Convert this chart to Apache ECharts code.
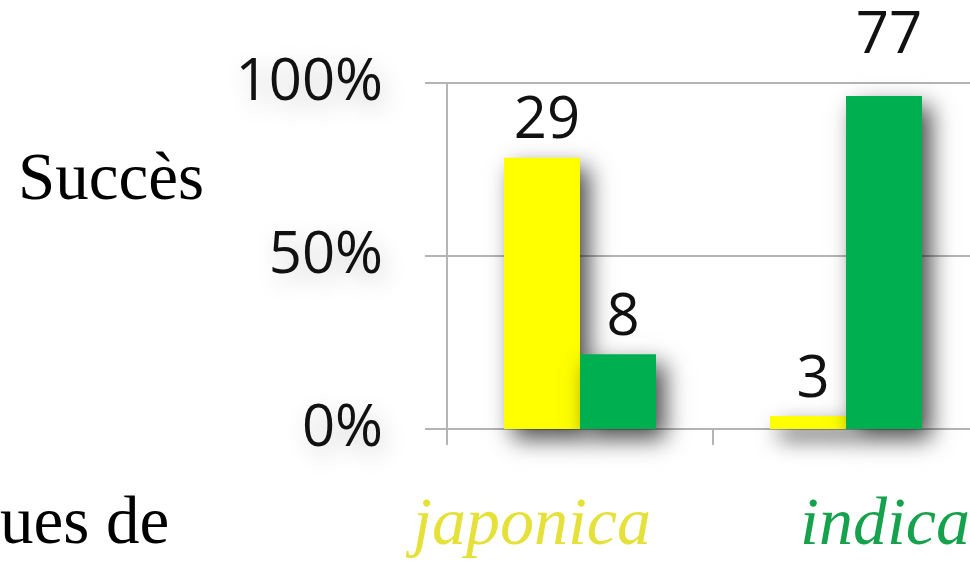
<!DOCTYPE html>
<html>
<head>
<meta charset="utf-8">
<script src="https://cdn.jsdelivr.net/npm/echarts@6/dist/echarts.min.js"></script>
<style>html,body{margin:0;padding:0;background:#fff;overflow:hidden;}#c{width:1000px;height:565px;}</style>
</head>
<body>
<div id="c"></div>
<script>
const categories = ['japonica', 'indica'];
const yellowCounts = [29, 3];
const greenCounts = [8, 77];
const yTicks = [0, 0.5, 1];
const sideTexts = ['Succès', 'ues de'];

const totals = categories.map((c, i) => yellowCounts[i] + greenCounts[i]);
const yellowShare = yellowCounts.map((v, i) => v / totals[i]);
const greenShare = greenCounts.map((v, i) => v / totals[i]);

const chart = echarts.init(document.getElementById('c'));
const labelFont = '"Open Sans", "Noto Sans", sans-serif';
const barShadow = {shadowColor: 'rgba(0,0,0,0.7)', shadowBlur: 22, shadowOffsetX: 9, shadowOffsetY: 10};
const textShadow = {textShadowColor: 'rgba(0,0,0,0.22)', textShadowBlur: 24, textShadowOffsetX: 4, textShadowOffsetY: 8};

function makeLabel(counts) {
  return {
    show: true, position: 'top', distance: 7, offset: [5, 0],
    fontFamily: labelFont, fontSize: 58, color: '#111',
    formatter: p => String(counts[p.dataIndex])
  };
}

chart.setOption({
  animation: false,
  backgroundColor: '#fff',
  grid: {left: 447, top: 83, width: 532, height: 346, containLabel: false},
  xAxis: {
    type: 'category', data: categories,
    axisLine: {show: true, lineStyle: {color: '#b4b4b4', width: 2}},
    axisTick: {show: true, length: 16, alignWithLabel: false, lineStyle: {color: '#b4b4b4', width: 2}},
    axisLabel: {show: false}
  },
  yAxis: {
    type: 'value', min: 0, max: 1, interval: 0.5,
    axisLine: {show: true, lineStyle: {color: '#b4b4b4', width: 2}},
    axisTick: {show: true, length: 22, lineStyle: {color: '#b4b4b4', width: 2}},
    splitLine: {show: true, lineStyle: {color: '#b4b4b4', width: 2}},
    axisLabel: Object.assign({
      margin: 64, fontFamily: labelFont, fontSize: 58, color: '#111',
      formatter: v => Math.round(v * 100) + '%'
    }, textShadow)
  },
  series: [
    {
      name: 'yellow', type: 'bar', barWidth: 76, barGap: '0%',
      itemStyle: Object.assign({color: '#ffff00'}, barShadow),
      label: makeLabel(yellowCounts),
      data: yellowShare
    },
    {
      name: 'green', type: 'bar', barWidth: 76, barGap: '0%',
      itemStyle: Object.assign({color: '#00b050'}, barShadow),
      label: makeLabel(greenCounts),
      data: greenShare.map((v, i) => i === 1 ? {value: v, label: {distance: 30}} : v)
    }
  ],
  graphic: [
    {type: 'text', left: 18, top: 148, style: {text: sideTexts[0], font: '67px "Liberation Serif", "Times New Roman", serif', fill: '#000'}},
    {type: 'text', left: 0, top: 492, style: {text: sideTexts[1], font: '67px "Liberation Serif", "Times New Roman", serif', fill: '#000'}},
    {type: 'text', left: 413, top: 492, style: {text: categories[0], font: 'italic 68px "Liberation Serif", "Times New Roman", serif', fill: '#e6e03a'}},
    {type: 'text', left: 800, top: 492, style: {text: categories[1], font: 'italic 68px "Liberation Serif", "Times New Roman", serif', fill: '#16a14c'}}
  ]
});
</script>
</body>
</html>
